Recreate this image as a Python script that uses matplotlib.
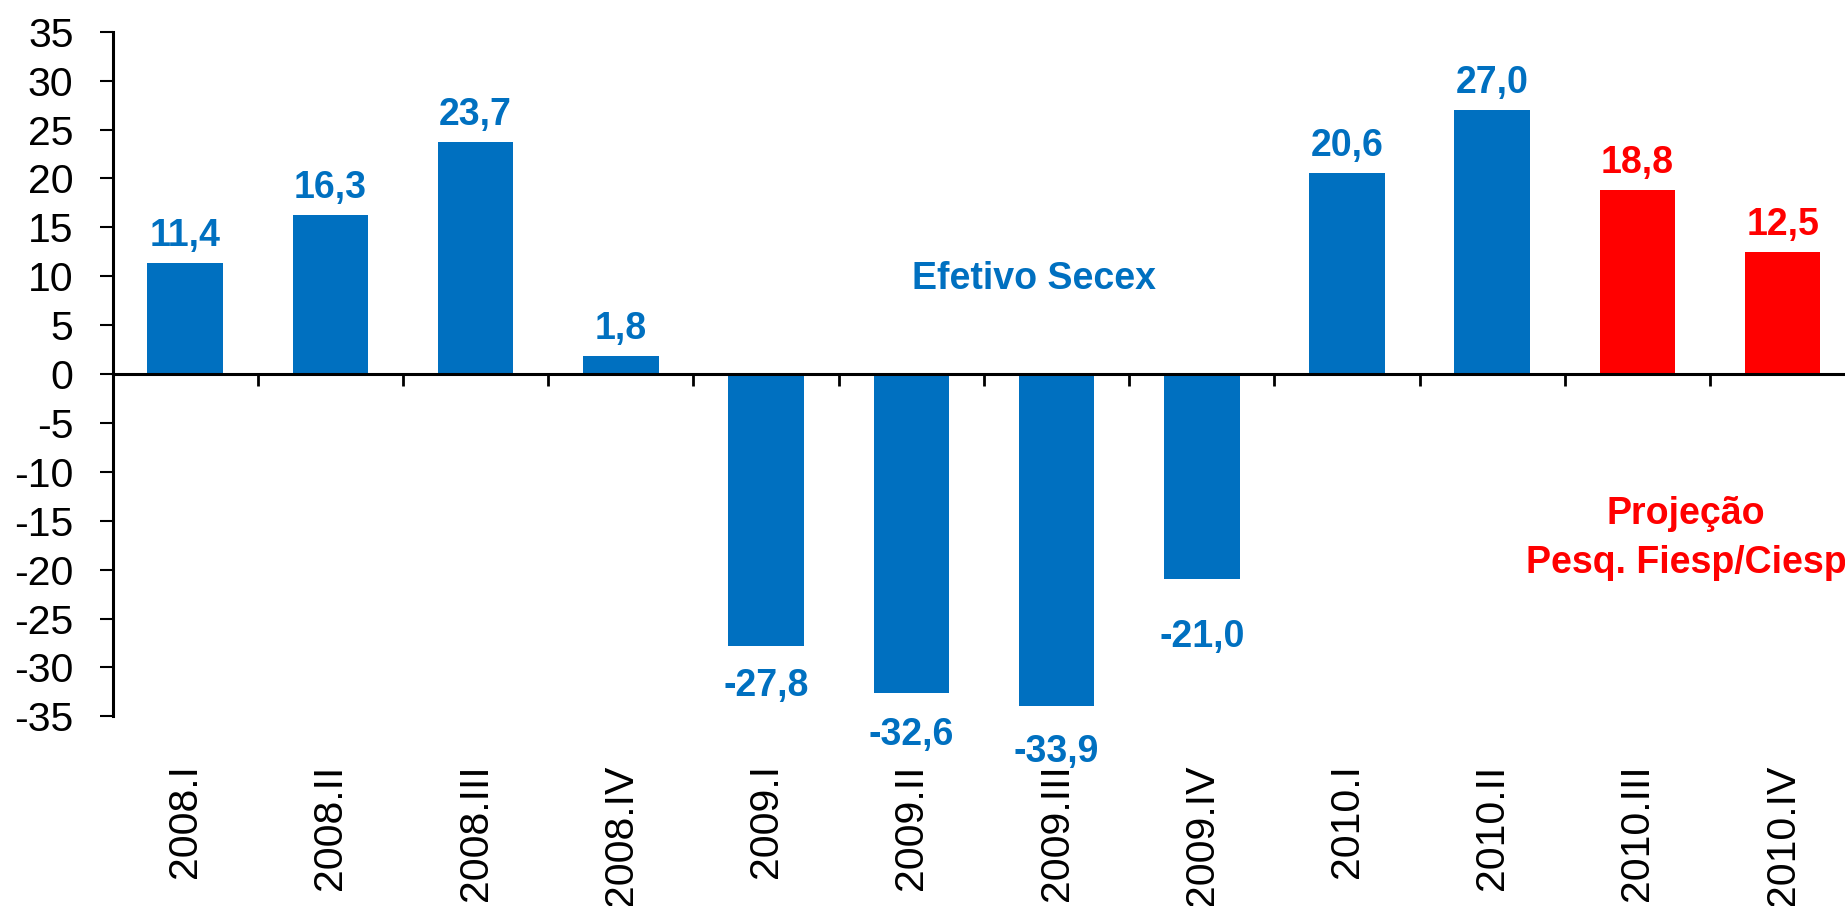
import numpy as np
import matplotlib
matplotlib.use('Agg')
import matplotlib.pyplot as plt

# fonte parecida com Arial
plt.rcParams['font.family'] = ['Liberation Sans', 'DejaVu Sans']
plt.rcParams['axes.unicode_minus'] = False

# dados (variação % trimestral)
trimestres = ['2008.I', '2008.II', '2008.III', '2008.IV',
              '2009.I', '2009.II', '2009.III', '2009.IV',
              '2010.I', '2010.II', '2010.III', '2010.IV']
valores = [11.4, 16.3, 23.7, 1.8, -27.8, -32.6, -33.9, -21.0, 20.6, 27.0, 18.8, 12.5]
projecao = [False] * 10 + [True, True]
rotulos = [f'{v:.1f}'.replace('.', ',') for v in valores]

AZUL = '#0070C0'
VERMELHO = '#FF0000'

# distância (pt) do rótulo abaixo das barras negativas
desloc_neg = {4: 16, 5: 17.3, 6: 20.2, 7: 28.8}

fig = plt.figure(figsize=(18.45, 9.06), dpi=100)
ax = fig.add_axes([0.06098, 0.20938, 0.94461, 0.75563])

x = np.arange(len(trimestres))
cores = [VERMELHO if p else AZUL for p in projecao]
bars = ax.bar(x, valores, width=0.52, color=cores, zorder=2)

for i, (b, v) in enumerate(zip(bars, valores)):
    cor = cores[i]
    if v >= 0:
        ax.annotate(rotulos[i], (b.get_x() + b.get_width() / 2, v), xytext=(0, 12.2),
                    textcoords='offset points', ha='center', va='baseline',
                    fontsize=27, fontweight='bold', color=cor)
    else:
        ax.annotate(rotulos[i], (b.get_x() + b.get_width() / 2, v), xytext=(0, -desloc_neg.get(i, 16)),
                    textcoords='offset points', ha='center', va='top',
                    fontsize=27, fontweight='bold', color=cor)

ax.text(5.845, 8.7, 'Efetivo Secex', ha='center', va='baseline',
        fontsize=27, fontweight='bold', color=AZUL)
# baseline da última linha
ax.text(10.334, -20.3, 'Projeção\nPesq. Fiesp/Ciesp', ha='center', va='baseline',
        multialignment='center', linespacing=1.45,
        fontsize=27, fontweight='bold', color=VERMELHO)

ax.set_xlim(-0.5, 11.5)
ax.set_ylim(-35, 35)

# eixos
for s in ['top', 'right']:
    ax.spines[s].set_visible(False)
ax.spines['bottom'].set_position(('data', 0))
ax.spines['bottom'].set_linewidth(2.2)
ax.spines['left'].set_linewidth(2.2)
ax.spines['bottom'].set_zorder(3)

ax.set_xticks(x)
ax.set_xticklabels(trimestres)
ax.set_xticks(np.arange(-0.5, 12, 1), minor=True)
ax.tick_params(axis='x', which='major', length=0, pad=281, labelsize=29.5, labelrotation=90)
ax.tick_params(axis='x', which='minor', length=8.6, width=2, direction='out')

ax.set_yticks(np.arange(-35, 36, 5))
ax.tick_params(axis='y', length=9.4, width=1.5, pad=18.7, labelsize=29.5)

fig.savefig('out.png', dpi=100)
plt.close()
